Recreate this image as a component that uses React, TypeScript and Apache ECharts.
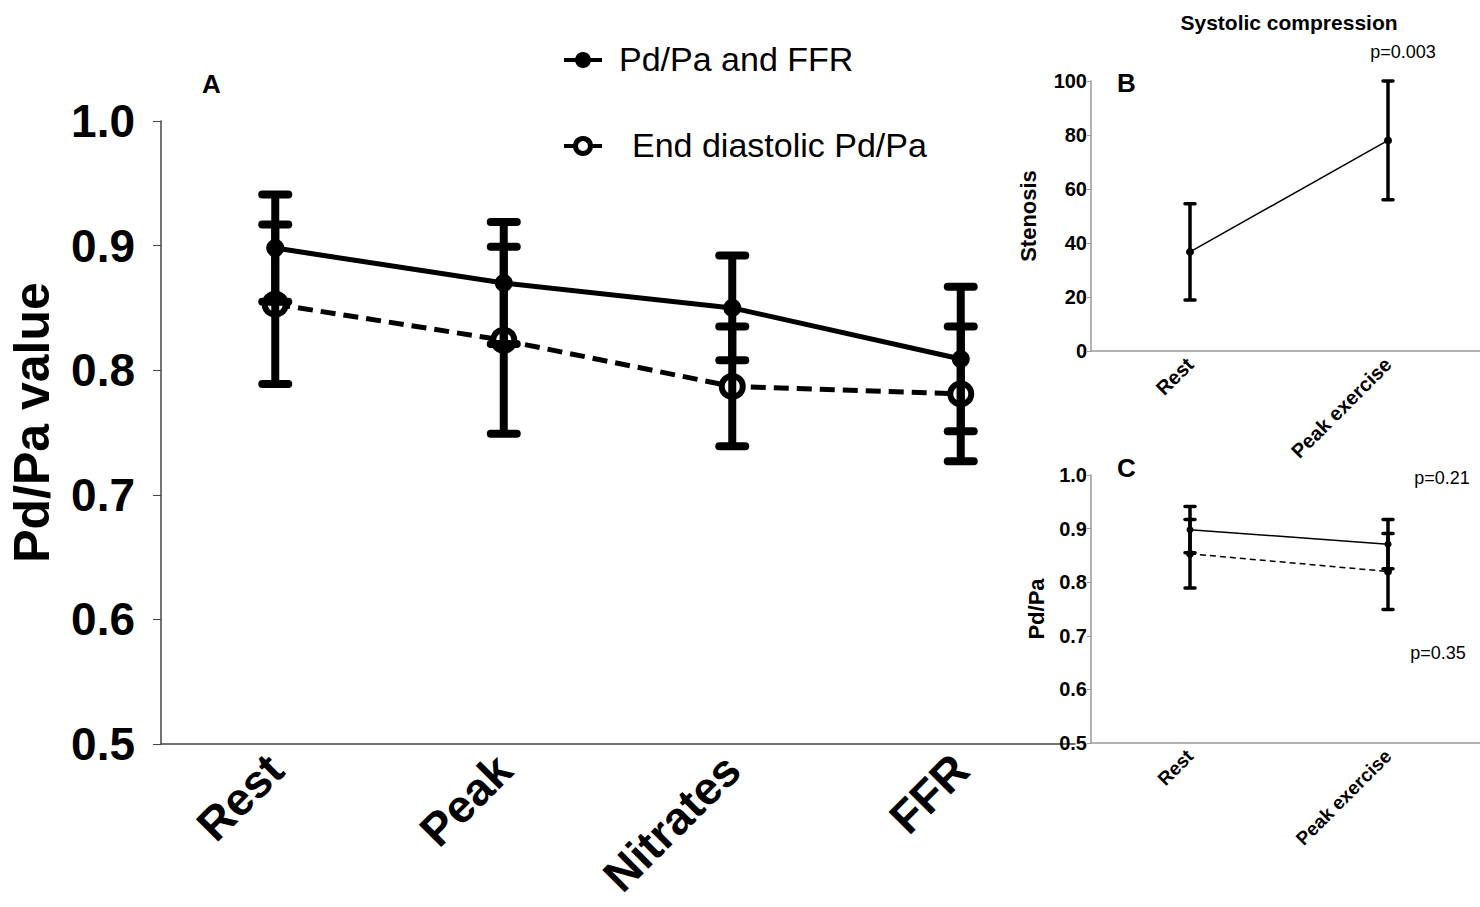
import React, { useEffect, useRef } from "react";
import * as echarts from "echarts";

// Panel A data
const categoriesA = ["Rest", "Peak", "Nitrates", "FFR"];
const pdpaMeanA = [0.898, 0.87, 0.85, 0.809];
const pdpaSdA = [0.043, 0.049, 0.042, 0.058];
const edMeanA = [0.853, 0.824, 0.787, 0.781];
const edSdA = [0.064, 0.075, 0.048, 0.054];
const ticksA = [0.5, 0.6, 0.7, 0.8, 0.9, 1.0];

// Panel B data
const categoriesB = ["Rest", "Peak exercise"];
const stenosisMean = [36.7, 78.0];
const stenosisSd = [17.8, 22.0];

// Panel C data
const categoriesC = ["Rest", "Peak exercise"];
const pdpaMeanC = [0.898, 0.871];
const pdpaSdC = [0.043, 0.046];
const edMeanC = [0.853, 0.82];
const edSdC = [0.064, 0.071];

const pLabels = { b: "p=0.003", c1: "p=0.21", c2: "p=0.35" };

const FONT = "'Liberation Sans', Arial, Helvetica, sans-serif";

function errData(mean: number[], sd: number[]) {
  return mean.map((m, i) => [i, m - sd[i], m + sd[i]]);
}

function errRender(capHalf: number, lw: number) {
  return (params: any, api: any) => {
    const x = api.value(0);
    const lo = api.coord([x, api.value(1)]);
    const hi = api.coord([x, api.value(2)]);
    const st = { stroke: "#000", lineWidth: lw, fill: "none" };
    return {
      type: "group",
      children: [
        { type: "line", shape: { x1: hi[0], y1: hi[1], x2: lo[0], y2: lo[1] }, style: st },
        { type: "line", shape: { x1: hi[0] - capHalf, y1: hi[1], x2: hi[0] + capHalf, y2: hi[1] }, style: { ...st, lineCap: "round" } },
        { type: "line", shape: { x1: lo[0] - capHalf, y1: lo[1], x2: lo[0] + capHalf, y2: lo[1] }, style: { ...st, lineCap: "round" } },
      ],
    };
  };
}

export default function App() {
  const ref = useRef<HTMLDivElement>(null);
  useEffect(() => {
    if (!ref.current) return;
    const chart = echarts.init(ref.current, null, { renderer: "svg" });
    const axisGrayA = "#444";
    const axisGrayB = "#9a9a9a";
    const option: any = {
      animation: false,
      backgroundColor: "#fff",
      textStyle: { fontFamily: FONT },
      grid: [
        { left: 161, top: 121, width: 914, height: 623, containLabel: false, outerBoundsMode: "none" },
        { left: 1091, top: 81, width: 396, height: 270, containLabel: false, outerBoundsMode: "none" },
        { left: 1091, top: 475, width: 396, height: 268, containLabel: false, outerBoundsMode: "none" },
      ],
      xAxis: [
        {
          type: "category",
          gridIndex: 0,
          data: categoriesA,
          boundaryGap: true,
          axisLine: { lineStyle: { color: axisGrayA, width: 1.5 } },
          axisTick: { alignWithLabel: true, length: 8, lineStyle: { color: "#888", width: 2 } },
          axisLabel: { rotate: 45, fontSize: 46, fontWeight: "bold", color: "#000", margin: 18, fontFamily: FONT },
        },
        {
          type: "category",
          gridIndex: 1,
          data: categoriesB,
          boundaryGap: true,
          axisLine: { lineStyle: { color: axisGrayB, width: 1.5 } },
          axisTick: { alignWithLabel: true, length: 4, lineStyle: { color: axisGrayB } },
          axisLabel: { rotate: 45, fontSize: 20, fontWeight: "bold", color: "#000", margin: 10, fontFamily: FONT },
        },
        {
          type: "category",
          gridIndex: 2,
          data: categoriesC,
          boundaryGap: true,
          axisLine: { lineStyle: { color: axisGrayB, width: 1.5 } },
          axisTick: { alignWithLabel: true, length: 4, lineStyle: { color: axisGrayB } },
          axisLabel: { rotate: 45, fontSize: 19, fontWeight: "bold", color: "#000", margin: 10, fontFamily: FONT },
        },
      ],
      yAxis: [
        {
          type: "value",
          gridIndex: 0,
          min: ticksA[0],
          max: ticksA[ticksA.length - 1],
          interval: 0.1,
          name: "Pd/Pa value",
          nameLocation: "middle",
          nameGap: 104,
          nameTextStyle: { fontSize: 50, fontWeight: "bold", color: "#000", fontFamily: FONT, padding: [0, 0, 0, 20] },
          splitLine: { show: false },
          axisLine: { show: true, lineStyle: { color: axisGrayA, width: 1.5 } },
          axisTick: { show: true, length: 8, lineStyle: { color: axisGrayA } },
          axisLabel: { fontSize: 46, fontWeight: "bold", color: "#000", margin: 26, fontFamily: FONT, formatter: (v: number) => v.toFixed(1) },
        },
        {
          type: "value",
          gridIndex: 1,
          min: 0,
          max: 100,
          interval: 20,
          name: "Stenosis",
          nameLocation: "middle",
          nameGap: 52,
          nameTextStyle: { fontSize: 22, fontWeight: "bold", color: "#000", fontFamily: FONT },
          splitLine: { show: false },
          axisLine: { show: true, lineStyle: { color: axisGrayB, width: 1.5 } },
          axisTick: { show: true, length: 4, lineStyle: { color: axisGrayB } },
          axisLabel: { fontSize: 20, fontWeight: "bold", color: "#000", margin: 4, fontFamily: FONT },
        },
        {
          type: "value",
          gridIndex: 2,
          min: 0.5,
          max: 1.0,
          interval: 0.1,
          name: "Pd/Pa",
          nameLocation: "middle",
          nameGap: 44,
          nameTextStyle: { fontSize: 22, fontWeight: "bold", color: "#000", fontFamily: FONT },
          splitLine: { show: false },
          axisLine: { show: true, lineStyle: { color: axisGrayB, width: 1.5 } },
          axisTick: { show: true, length: 4, lineStyle: { color: axisGrayB } },
          axisLabel: { fontSize: 20, fontWeight: "bold", color: "#000", margin: 4, fontFamily: FONT, formatter: (v: number) => v.toFixed(1) },
        },
      ],
      series: [
        // Panel A
        {
          name: "Pd/Pa and FFR",
          type: "line",
          xAxisIndex: 0,
          yAxisIndex: 0,
          data: pdpaMeanA,
          symbol: "circle",
          symbolSize: 18,
          itemStyle: { color: "#000" },
          lineStyle: { color: "#000", width: 5 },
          z: 3,
        },
        {
          name: "End diastolic Pd/Pa",
          type: "line",
          xAxisIndex: 0,
          yAxisIndex: 0,
          data: edMeanA,
          symbol: "circle",
          symbolSize: 21,
          itemStyle: { color: "#fff", borderColor: "#000", borderWidth: 6 },
          lineStyle: { color: "#000", width: 5, type: [15, 8] },
          z: 3,
        },
        {
          type: "custom",
          xAxisIndex: 0,
          yAxisIndex: 0,
          data: errData(pdpaMeanA, pdpaSdA),
          encode: { x: 0, y: [1, 2] },
          renderItem: errRender(13, 8),
          z: 4,
          silent: true,
        },
        {
          type: "custom",
          xAxisIndex: 0,
          yAxisIndex: 0,
          data: errData(edMeanA, edSdA),
          encode: { x: 0, y: [1, 2] },
          renderItem: errRender(13, 8),
          z: 4,
          silent: true,
        },
        // Panel B
        {
          name: "Stenosis",
          type: "line",
          xAxisIndex: 1,
          yAxisIndex: 1,
          data: stenosisMean,
          symbol: "circle",
          symbolSize: 8,
          itemStyle: { color: "#000" },
          lineStyle: { color: "#000", width: 1.5 },
          z: 3,
        },
        {
          type: "custom",
          xAxisIndex: 1,
          yAxisIndex: 1,
          data: errData(stenosisMean, stenosisSd),
          encode: { x: 0, y: [1, 2] },
          renderItem: errRender(5, 3.5),
          z: 4,
          silent: true,
        },
        // Panel C
        {
          name: "Pd/Pa C",
          type: "line",
          xAxisIndex: 2,
          yAxisIndex: 2,
          data: pdpaMeanC,
          symbol: "circle",
          symbolSize: 7,
          itemStyle: { color: "#000" },
          lineStyle: { color: "#000", width: 1.5 },
          z: 3,
        },
        {
          name: "End diastolic C",
          type: "line",
          xAxisIndex: 2,
          yAxisIndex: 2,
          data: edMeanC,
          symbol: "circle",
          symbolSize: 8,
          itemStyle: { color: "#000" },
          lineStyle: { color: "#000", width: 1.5, type: [6, 4] },
          z: 3,
        },
        {
          type: "custom",
          xAxisIndex: 2,
          yAxisIndex: 2,
          data: errData(pdpaMeanC, pdpaSdC),
          encode: { x: 0, y: [1, 2] },
          renderItem: errRender(5, 3.5),
          z: 4,
          silent: true,
        },
        {
          type: "custom",
          xAxisIndex: 2,
          yAxisIndex: 2,
          data: errData(edMeanC, edSdC),
          encode: { x: 0, y: [1, 2] },
          renderItem: errRender(5, 3.5),
          z: 4,
          silent: true,
        },
      ],
      graphic: [
        // Legend
        { type: "line", shape: { x1: 564, y1: 60, x2: 602, y2: 60 }, style: { stroke: "#000", lineWidth: 4 } },
        { type: "circle", shape: { cx: 583, cy: 60, r: 8 }, style: { fill: "#000" } },
        { type: "text", x: 619, y: 59, style: { text: "Pd/Pa and FFR", fontSize: 34, fontFamily: FONT, fill: "#000", verticalAlign: "middle" } },
        { type: "line", shape: { x1: 564, y1: 146, x2: 602, y2: 146 }, style: { stroke: "#000", lineWidth: 4 } },
        { type: "circle", shape: { cx: 583, cy: 146, r: 7.5 }, style: { fill: "#fff", stroke: "#000", lineWidth: 5 } },
        { type: "text", x: 632, y: 145, style: { text: "End diastolic Pd/Pa", fontSize: 34, fontFamily: FONT, fill: "#000", verticalAlign: "middle" } },
        // Panel letters
        { type: "text", x: 202, y: 84, style: { text: "A", fontSize: 26, fontWeight: "bold", fontFamily: FONT, fill: "#000", verticalAlign: "middle" } },
        { type: "text", x: 1117, y: 83, style: { text: "B", fontSize: 26, fontWeight: "bold", fontFamily: FONT, fill: "#000", verticalAlign: "middle" } },
        { type: "text", x: 1117, y: 468, style: { text: "C", fontSize: 26, fontWeight: "bold", fontFamily: FONT, fill: "#000", verticalAlign: "middle" } },
        // Panel B title & p-values
        { type: "text", x: 1289, y: 22, style: { text: "Systolic compression", fontSize: 21, fontWeight: "bold", fontFamily: FONT, fill: "#000", align: "center", verticalAlign: "middle" } },
        { type: "text", x: 1403, y: 52, style: { text: pLabels.b, fontSize: 18, fontFamily: FONT, fill: "#000", align: "center", verticalAlign: "middle" } },
        { type: "text", x: 1442, y: 478, style: { text: pLabels.c1, fontSize: 18, fontFamily: FONT, fill: "#000", align: "center", verticalAlign: "middle" } },
        { type: "text", x: 1438, y: 653, style: { text: pLabels.c2, fontSize: 18, fontFamily: FONT, fill: "#000", align: "center", verticalAlign: "middle" } },
      ],
    };
    chart.setOption(option);
    return () => chart.dispose();
  }, []);
  return (
    <div
      ref={ref}
      style={{ position: "fixed", left: 0, top: 0, width: 1480, height: 907, background: "#fff" }}
    />
  );
}
